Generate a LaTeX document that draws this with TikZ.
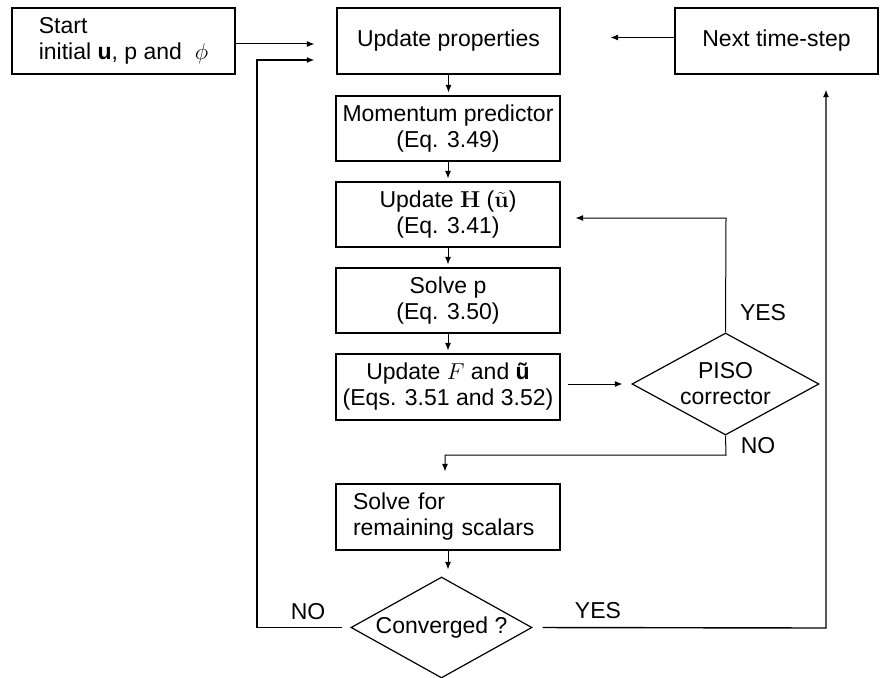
\RequirePackage{fix-cm}
\documentclass[tikz,border=0pt]{standalone}
\usepackage[no-math]{fontspec}
\setmainfont{Liberation Sans}
\usetikzlibrary{shapes.geometric,arrows.meta}
\begin{document}
\begin{tikzpicture}[x=1pt,y=-1pt,
 every node/.style={font=\fontsize{23}{26}\selectfont},
 box/.style={draw, line width=1.2pt, rectangle, inner sep=0pt, align=center, minimum width=224pt, minimum height=65pt},
 dec/.style={draw, line width=1.2pt, diamond, inner sep=0pt, align=center, aspect=1.8},
 arr/.style={line width=1pt, -{Latex[length=7.5pt,width=6pt]}},
 lbl/.style={inner sep=0pt}]
\useasboundingbox (0,0) rectangle (888,677);

\node[box, minimum width=223pt, minimum height=66pt, align=left] (start) at (123.5,41) {Start\\initial \textbf{u}, p and~ $\phi$};
\node[box, minimum width=223pt, minimum height=66pt] (up) at (448.5,41) {Update properties};
\node[box, minimum width=203pt, minimum height=66pt] (next) at (776.5,41) {Next time-step};
\node[box] (mom) at (448,128.5) {Momentum predictor\\(Eq. 3.49)};
\node[box] (uh) at (448,214.5) {Update $\mathbf{H}$ ($\tilde{\mathbf{u}}$)\\(Eq. 3.41)};
\node[box] (sp) at (448,300.5) {Solve p\\(Eq. 3.50)};
\node[box, minimum height=66pt] (uf) at (448,387) {Update $F$ and \textbf{\~u}\\(Eqs. 3.51 and 3.52)};
\node[box, minimum height=66pt, text width=190pt, align=left] (sf) at (448,517) {Solve for\\remaining scalars};
\node[dec, minimum width=187pt, minimum height=102pt] (piso) at (725.5,384) {PISO\\corrector};
\node[dec, minimum width=181pt, minimum height=101pt] (conv) at (441.5,627.5) {Converged ?};

\coordinate (lx) at (257,60);
\coordinate (rx) at (826,628);
\coordinate (py) at (726,218);
\coordinate (pn) at (726,455);

\draw[arr, shorten >=22pt] ([yshift=-3pt]start.east) -- ([yshift=-3pt]start.east -| up.west);
\draw[arr, line width=1.4pt, shorten <=8pt, shorten >=22pt] (conv.west) -| (lx) -- (lx -| up.west);
\draw[arr, shorten >=50pt] ([yshift=3.5pt]next.west) -- ([yshift=3.5pt]next.west -| up.east);
\draw[arr, line width=1.4pt, shorten <=10pt, shorten >=15pt] (conv.east) -- (rx) -- (rx |- next.south);

\draw[arr, shorten >=3pt] (up.south) -- (up.south |- mom.north);
\draw[arr, shorten >=3pt] (mom.south) -- (uh.north);
\draw[arr, shorten >=3pt] (uh.south) -- (sp.north);
\draw[arr, shorten >=3pt] (sp.south) -- (uf.north);
\draw[arr, shorten >=7pt] (sf.south) -- (sf.south |- conv.north);

\draw[arr, shorten <=7pt, shorten >=9pt] (piso.west -| uf.east) -- (piso.west);
\draw[arr, shorten >=15pt] (piso.north) -- (py) -- (py -| uh.east);
\draw[arr, shorten >=12pt] (piso.south) -- (pn) -| ([xshift=-3pt]sf.north);

\node[lbl] (yes1) at (763,313) {YES};
\node[lbl] (no1) at (758,446) {NO};
\node[lbl] (no2) at (308,612) {NO};
\node[lbl] (yes2) at (598,611) {YES};
\end{tikzpicture}
\end{document}
